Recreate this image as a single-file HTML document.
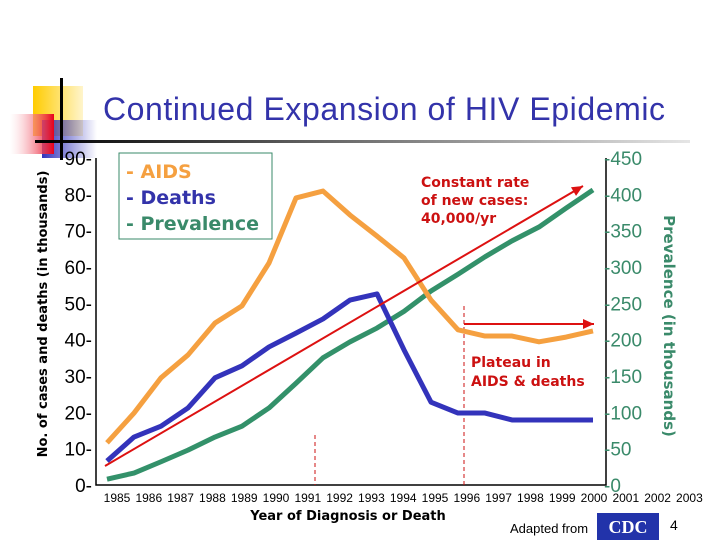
<!DOCTYPE html>
<html><head><meta charset="utf-8"><style>
body{margin:0;width:720px;height:540px;overflow:hidden;background:#fff;font-family:"Liberation Sans",sans-serif}
</style></head><body>
<svg width="720" height="540" font-family="Liberation Sans, DejaVu Sans, sans-serif">
<defs>
<linearGradient id="ul" x1="0" x2="1"><stop offset="0" stop-color="#000"/><stop offset="1" stop-color="#000" stop-opacity="0.1"/></linearGradient>
<linearGradient id="rd" x1="0" x2="1"><stop offset="0" stop-color="#fff" stop-opacity="0.3"/><stop offset="1" stop-color="#e8001a"/></linearGradient>
<linearGradient id="bl" x1="0" x2="1"><stop offset="0" stop-color="#3333bb"/><stop offset="1" stop-color="#3333bb" stop-opacity="0"/></linearGradient>
<linearGradient id="yl" x1="0" x2="1"><stop offset="0" stop-color="#ffcc00"/><stop offset="1" stop-color="#ffcc00" stop-opacity="0.2"/></linearGradient>
</defs>
<g>
<rect x="33" y="86" width="50" height="50" fill="url(#yl)"/>
<rect x="42" y="120" width="55" height="38" fill="url(#bl)"/>
<rect x="10" y="114" width="44" height="40" fill="url(#rd)"/>
<rect x="60" y="78" width="3" height="82" fill="#000"/>
<rect x="35" y="140" width="655" height="3" fill="url(#ul)"/>
</g>
<text x="384" y="120" font-size="32" fill="#3333aa" text-anchor="middle" textLength="562">Continued Expansion of HIV Epidemic</text>
<g id="axes"></g>
<g id="marks"></g>
<rect x="119" y="153" width="153" height="86" fill="#fff" stroke="#3a8a6a" stroke-width="1"/>
<g font-size="19" font-weight="bold" font-family="DejaVu Sans, sans-serif">
<text x="126" y="178" fill="#f5a040">- AIDS</text>
<text x="126" y="204" fill="#3333aa">- Deaths</text>
<text x="126" y="230" fill="#3a8a6a">- Prevalence</text>
</g>
<g font-size="14" font-weight="bold" fill="#cc1111" font-family="DejaVu Sans, sans-serif">
<text><tspan x="421" y="187">Constant rate</tspan><tspan x="421" y="205">of new cases:</tspan><tspan x="421" y="223">40,000/yr</tspan></text>
<text><tspan x="471" y="367">Plateau in</tspan><tspan x="471" y="386">AIDS &amp; deaths</tspan></text>
</g>
<text transform="translate(47,314) rotate(-90)" font-size="13" font-weight="bold" text-anchor="middle" font-family="DejaVu Sans, sans-serif">No. of cases and deaths (in thousands)</text>
<text transform="translate(664,326) rotate(90)" font-size="15" font-weight="bold" fill="#3a8a6a" text-anchor="middle" font-family="DejaVu Sans, sans-serif">Prevalence (in thousands)</text>
<text x="348" y="520" font-size="13" font-weight="bold" text-anchor="middle" font-family="DejaVu Sans, sans-serif">Year of Diagnosis or Death</text>
<text x="510" y="533" font-size="13">Adapted from</text>
<rect x="597" y="513" width="62" height="27" fill="#2233aa"/>
<text x="628" y="533" font-size="18" font-weight="bold" fill="#fff" text-anchor="middle" font-family="Liberation Serif, serif">CDC</text>
<text x="670" y="530" font-size="14">4</text>
</svg>
<script>
const years=["1985","1986","1987","1988","1989","1990","1991","1992","1993","1994","1995","1996","1997","1998","1999","2000","2001","2002","2003"];
const aids=[11.6,19.8,29.5,35.8,44.6,49.3,61.1,79,80.9,74.3,68.5,62.5,50.9,42.7,41,41,39.4,40.7,42.4];
const deaths=[6.6,13.2,16.2,21.2,29.5,32.8,38,41.8,45.7,50.9,52.6,37.2,22.8,19.8,19.8,17.9,17.9,17.9,17.9];
const prevalence=[8,16.5,32,48,66,81,106,140,175,197,216,239,267,290,314,336,355,381,406];
const leftTicks=[0,10,20,30,40,50,60,70,80,90];
const rightTicks=[0,50,100,150,200,250,300,350,400,450];
const NS="http://www.w3.org/2000/svg";
const X0=96,X1=606,Y0=485,Y90=158;
const xs=i=>107+i*27;
const yL=v=>Y0-(Y0-Y90)*v/90;
const yR=v=>Y0-(Y0-Y90)*v/450;
function mk(t,a,p){const e=document.createElementNS(NS,t);for(const k in a)e.setAttribute(k,a[k]);(p||document.getElementById('marks')).appendChild(e);return e;}
const ax=document.getElementById('axes');
let e=mk('path',{d:`M${X0},${Y90} V${Y0} H${X1} V${Y90}`,fill:'none',stroke:'#000','stroke-width':1.5},ax);


leftTicks.forEach(v=>{const t=mk('text',{x:X0-4,y:yL(v)+7,'font-size':19,'text-anchor':'end'},ax);t.textContent=v+'-';

});
rightTicks.forEach(v=>{const t=mk('text',{x:X1-2,y:yR(v)+7,'font-size':19,fill:'#3a8a6a'},ax);t.textContent='-'+v;

});
years.forEach((y,i)=>{const t=mk('text',{x:117+i*31.8,y:502,'font-size':12,'text-anchor':'middle'},ax);t.textContent=y;

});
[[315,435],[464,306]].forEach(([x,y])=>{const l=mk('line',{x1:x,x2:x,y1:y,y2:Y0,stroke:'#cc1111','stroke-dasharray':'4,3','stroke-width':1});

});
function line(vals,f,c,name){const p=mk('polyline',{points:vals.map((v,i)=>xs(i)+','+f(v)).join(' '),fill:'none',stroke:c,'stroke-width':5,'stroke-linejoin':'round'});

}
line(prevalence,yR,'#33916a','prevalence-line');
line(deaths,yL,'#3333bb','deaths-line');
line(aids,yL,'#f5a040','aids-line');
function arrow(x1,y1,x2,y2,name){const l=mk('line',{x1,y1,x2,y2,stroke:'#dd1111','stroke-width':2});


const a=Math.atan2(y2-y1,x2-x1),L=11,w=5;
const p=mk('polygon',{points:`${x2},${y2} ${x2-L*Math.cos(a)+w*Math.sin(a)},${y2-L*Math.sin(a)-w*Math.cos(a)} ${x2-L*Math.cos(a)-w*Math.sin(a)},${y2-L*Math.sin(a)+w*Math.cos(a)}`,fill:'#dd1111'});

}
arrow(105,466,583,186,'trend-arrow');
arrow(464,324,594,324,'plateau-arrow');
</script>
</body></html>
